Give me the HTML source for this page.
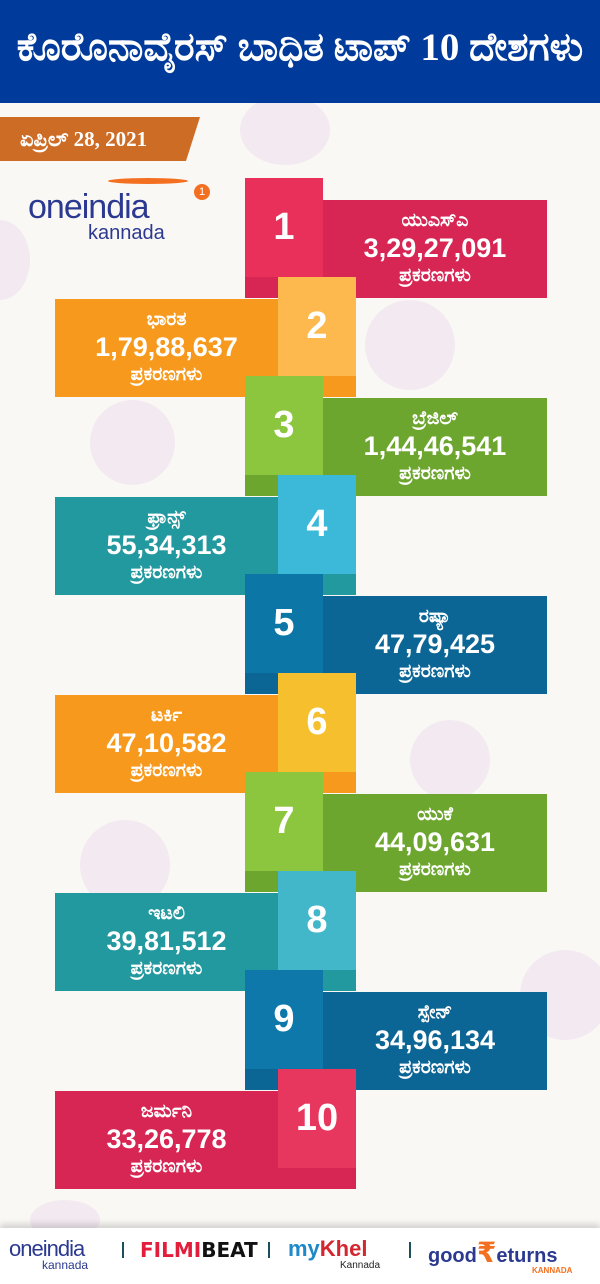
<!DOCTYPE html>
<html><head><meta charset="utf-8"><style>
*{margin:0;padding:0;box-sizing:border-box}
body{width:600px;height:1284px;position:relative;overflow:hidden;background:#faf8f5;font-family:"Liberation Sans","DejaVu Sans",sans-serif;color:#fff}
.hdr{position:absolute;left:0;top:0;width:600px;height:103px;background:#003a9b;font-family:"Liberation Serif",serif;font-weight:bold;font-size:39px;text-align:center;line-height:95px;white-space:nowrap}
.date{position:absolute;left:0;top:117px;width:200px;height:44px;background:#cd6c25;clip-path:polygon(0 0,100% 0,93% 100%,0 100%);font-family:"Liberation Serif",serif;font-weight:bold;font-size:21px;line-height:44px;padding-left:20px;white-space:nowrap}
.v{position:absolute;border-radius:50%;background:#efe3ef;opacity:.7}
.box{position:absolute;height:98px}
.sq{position:absolute;width:78px;height:99px;font-size:38px;font-weight:bold;text-align:center;line-height:99px}
.t{position:absolute;top:0;height:98px;text-align:center;display:flex;flex-direction:column;justify-content:center;font-weight:bold}
.t .n{font-size:19px;line-height:22px}
.t .c{font-size:27px;line-height:32px}
.t .l{font-size:19px;line-height:24px}
.foot{position:absolute;left:0;top:1228px;width:600px;height:56px;background:#fff;box-shadow:0 -4px 6px rgba(0,0,0,.15);font-weight:bold}
</style></head><body>
<div class="v" style="left:240px;top:95px;width:90px;height:70px"></div>
<div class="v" style="left:-30px;top:220px;width:60px;height:80px"></div>
<div class="v" style="left:365px;top:300px;width:90px;height:90px"></div>
<div class="v" style="left:90px;top:400px;width:85px;height:85px"></div>
<div class="v" style="left:410px;top:720px;width:80px;height:80px"></div>
<div class="v" style="left:80px;top:820px;width:90px;height:90px"></div>
<div class="v" style="left:520px;top:950px;width:90px;height:90px"></div>
<div class="v" style="left:30px;top:1200px;width:70px;height:40px"></div>
<div class="hdr">ಕೊರೊನಾವೈರಸ್ ಬಾಧಿತ ಟಾಪ್ 10 ದೇಶಗಳು</div>
<div class="date">ಏಪ್ರಿಲ್ 28, 2021</div>
<div style="position:absolute;left:28px;top:188px;font-size:34px;color:#2b3990;font-weight:normal;letter-spacing:-1px">oneindia</div>
<div style="position:absolute;left:88px;top:222px;font-size:20px;color:#2b3990">kannada</div>
<div style="position:absolute;left:108px;top:178px;width:80px;height:6px;border-radius:50%;background:#f37021"></div>
<div style="position:absolute;left:194px;top:184px;width:16px;height:16px;border-radius:50%;background:#f37021;font-size:11px;text-align:center;line-height:16px">1</div>

<div class="box" style="left:245px;top:200px;width:302px;background:#d72554"><div class="t" style="left:78px;width:224px"><div class="n">ಯುಎಸ್ಎ</div><div class="c">3,29,27,091</div><div class="l">ಪ್ರಕರಣಗಳು</div></div></div>
<div class="sq" style="left:245px;top:178px;background:#e8305a">1</div>

<div class="box" style="left:55px;top:299px;width:301px;background:#f7991c"><div class="t" style="left:0;width:223px"><div class="n">ಭಾರತ</div><div class="c">1,79,88,637</div><div class="l">ಪ್ರಕರಣಗಳು</div></div></div>
<div class="sq" style="left:278px;top:277px;background:#fdb94e">2</div>

<div class="box" style="left:245px;top:398px;width:302px;background:#6da62f"><div class="t" style="left:78px;width:224px"><div class="n">ಬ್ರೆಜಿಲ್</div><div class="c">1,44,46,541</div><div class="l">ಪ್ರಕರಣಗಳು</div></div></div>
<div class="sq" style="left:245px;top:376px;background:#8cc63e">3</div>

<div class="box" style="left:55px;top:497px;width:301px;background:#22989f"><div class="t" style="left:0;width:223px"><div class="n">ಫ್ರಾನ್ಸ್</div><div class="c">55,34,313</div><div class="l">ಪ್ರಕರಣಗಳು</div></div></div>
<div class="sq" style="left:278px;top:475px;background:#3cb9d9">4</div>

<div class="box" style="left:245px;top:596px;width:302px;background:#0b6595"><div class="t" style="left:78px;width:224px"><div class="n">ರಷ್ಯಾ</div><div class="c">47,79,425</div><div class="l">ಪ್ರಕರಣಗಳು</div></div></div>
<div class="sq" style="left:245px;top:574px;background:#0c77a7">5</div>

<div class="box" style="left:55px;top:695px;width:301px;background:#f7991c"><div class="t" style="left:0;width:223px"><div class="n">ಟರ್ಕಿ</div><div class="c">47,10,582</div><div class="l">ಪ್ರಕರಣಗಳು</div></div></div>
<div class="sq" style="left:278px;top:673px;background:#f5bf2d">6</div>

<div class="box" style="left:245px;top:794px;width:302px;background:#6da62f"><div class="t" style="left:78px;width:224px"><div class="n">ಯುಕೆ</div><div class="c">44,09,631</div><div class="l">ಪ್ರಕರಣಗಳು</div></div></div>
<div class="sq" style="left:245px;top:772px;background:#8cc63e">7</div>

<div class="box" style="left:55px;top:893px;width:301px;background:#22989f"><div class="t" style="left:0;width:223px"><div class="n">ಇಟಲಿ</div><div class="c">39,81,512</div><div class="l">ಪ್ರಕರಣಗಳು</div></div></div>
<div class="sq" style="left:278px;top:871px;background:#42b7c9">8</div>

<div class="box" style="left:245px;top:992px;width:302px;background:#0b6595"><div class="t" style="left:78px;width:224px"><div class="n">ಸ್ಪೇನ್</div><div class="c">34,96,134</div><div class="l">ಪ್ರಕರಣಗಳು</div></div></div>
<div class="sq" style="left:245px;top:970px;background:#0e78aa">9</div>

<div class="box" style="left:55px;top:1091px;width:301px;background:#d72554"><div class="t" style="left:0;width:223px"><div class="n">ಜರ್ಮನಿ</div><div class="c">33,26,778</div><div class="l">ಪ್ರಕರಣಗಳು</div></div></div>
<div class="sq" style="left:278px;top:1069px;background:#e8375f">10</div>

<div class="foot">
<div style="position:absolute;left:9px;top:8px;font-size:22px;color:#2b3990;font-weight:normal;letter-spacing:-1px">oneindia</div>
<div style="position:absolute;left:42px;top:30px;font-size:12px;color:#2b3990;font-weight:normal">kannada</div>
<div style="position:absolute;left:122px;top:14px;width:2px;height:16px;background:#1d4e5c"></div>
<div style="position:absolute;left:140px;top:10px;font-size:20px;color:#e31e3c;font-family:'DejaVu Sans',sans-serif">FILMI<span style="color:#111">BEAT</span></div>
<div style="position:absolute;left:268px;top:14px;width:2px;height:16px;background:#1d4e5c"></div>
<div style="position:absolute;left:288px;top:8px;font-size:22px;color:#1e88c8">my<span style="color:#d32630">Khel</span></div>
<div style="position:absolute;left:340px;top:32px;font-size:10px;color:#222;font-weight:normal">Kannada</div>
<div style="position:absolute;left:409px;top:14px;width:2px;height:16px;background:#1d4e5c"></div>
<div style="position:absolute;left:428px;top:8px;font-size:20px;color:#2b3990">good<span style="color:#f37021;font-size:28px">₹</span>eturns</div>
<div style="position:absolute;left:532px;top:38px;font-size:8px;color:#f37021">KANNADA</div>
</div>
</body></html>
